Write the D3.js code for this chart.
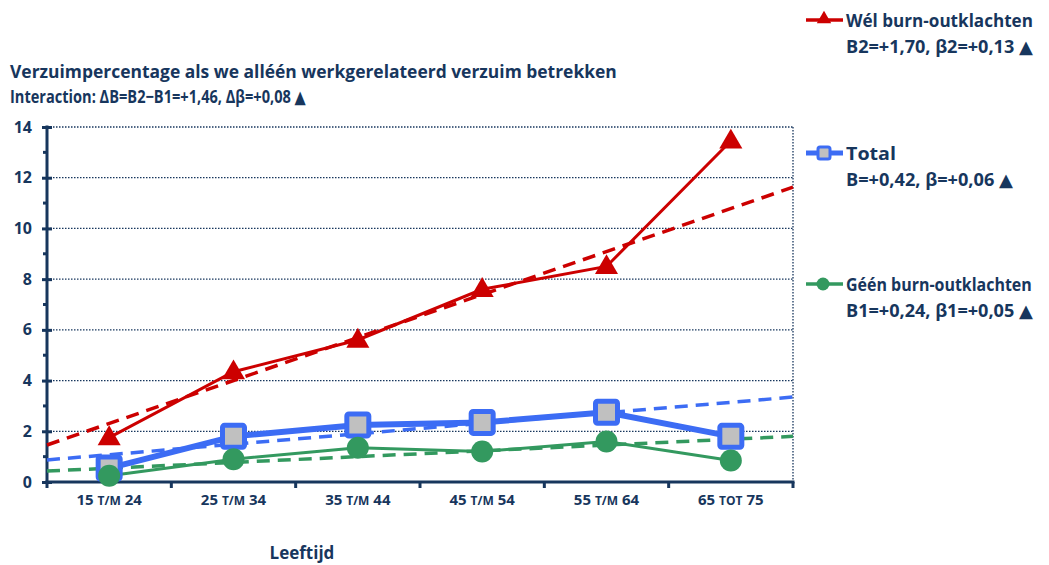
<!DOCTYPE html>
<html>
<head>
<meta charset="utf-8">
<script src="https://cdn.jsdelivr.net/npm/d3@7"></script>
<style>
body { margin:0; background:#fff; }
svg text { font-family: "Open Sans", "DejaVu Sans", sans-serif; font-weight:bold; fill:#17365d; }
</style>
</head>
<body>
<div id="chart"></div>
<script>
// leeftijdsgroepen
var categories = ["15|T/M|24", "25|T/M|34", "35|T/M|44", "45|T/M|54", "55|T/M|64", "65|TOT|75"];
var yTicks = [0, 2, 4, 6, 8, 10, 12, 14];

// verzuimpercentages
var welBurnout = [1.75, 4.35, 5.6, 7.6, 8.5, 13.45];
var total = [0.55, 1.8, 2.25, 2.35, 2.75, 1.8];
var geenBurnout = [0.25, 0.9, 1.35, 1.2, 1.6, 0.85];

// trendlijnen: waarde aan linker- en rechterrand van de plot
var welTrend = [1.46, 11.63];
var totalTrend = [0.87, 3.35];
var geenTrend = [0.43, 1.8];

var titleLines = ["Verzuimpercentage als we alléén werkgerelateerd verzuim betrekken",
	"Interaction: ΔB=B2\u2212B1=+1,46, Δβ=+0,08 ▲"];
var legendNames = ["Wél burn-outklachten", "Total", "Géén burn-outklachten"];
var legendStats = ["B2=+1,70, β2=+0,13 ▲", "B=+0,42, β=+0,06 ▲", "B1=+0,24, β1=+0,05 ▲"];

var navy = "#17365d";
var red = "#cc0000", blue = "#3c6cf4", green = "#33995f";

var width = 1049, height = 565;
var svg = d3.select("#chart").append("svg")
	.attr("width", width).attr("height", height);

var x = d3.scaleBand().domain(categories).range([47, 793]);
var y = d3.scaleLinear().domain([0, 14]).range([482, 127]);
var xc = function(d){ return x(d) + x.bandwidth()/2; };

// tekst horizontaal schalen tot een breedte (smaller lettertype, zoals Calibri)
function fitText(px, py, txt, size, w){
	var t = svg.append("text").attr("x", 0).attr("y", 0).style("font-size", size + "px").text(txt);
	var len = t.node().getComputedTextLength();
	t.attr("transform", "translate(" + px + "," + py + ") scale(" + (w/len) + ",1)");
	return t;
}

// grid
svg.selectAll(".grid").data(yTicks.filter(function(d){ return d > 0; }))
	.enter().append("line")
	.attr("x1", 47).attr("x2", 793)
	.attr("y1", function(d){ return y(d); }).attr("y2", function(d){ return y(d); })
	.attr("stroke", navy).attr("stroke-width", 1.3).attr("stroke-dasharray", "1.5,1.5");
svg.append("line")
	.attr("x1", 793).attr("x2", 793).attr("y1", y(14)).attr("y2", y(0))
	.attr("stroke", navy).attr("stroke-width", 1.3).attr("stroke-dasharray", "1.5,1.5");

// y axis
var yAxis = d3.axisLeft(y).tickValues(yTicks).tickSize(5).tickPadding(8);
var gy = svg.append("g").attr("transform", "translate(47,0)").call(yAxis);
gy.select(".domain").remove();
gy.selectAll(".tick line").attr("stroke", navy).attr("stroke-width", 3).attr("x2", -5).attr("x1", 5);
gy.selectAll(".tick text").attr("x", -15).attr("font-size", 16).style("font-size", "16px").style("fill", navy);
svg.selectAll(".minor").data([1, 3, 5, 7, 9, 11, 13]).enter().append("line")
	.attr("x1", 43).attr("x2", 47)
	.attr("y1", function(d){ return y(d); }).attr("y2", function(d){ return y(d); })
	.attr("stroke", navy).attr("stroke-width", 3);
svg.append("line").attr("x1", 47).attr("x2", 47).attr("y1", y(14) - 1.5).attr("y2", y(0) + 1.5)
	.attr("stroke", navy).attr("stroke-width", 3);

// x axis
svg.append("line").attr("x1", 45.5).attr("x2", 794.5).attr("y1", y(0)).attr("y2", y(0))
	.attr("stroke", navy).attr("stroke-width", 3);
svg.selectAll(".xtick").data(categories.concat(["end"])).enter().append("line")
	.attr("x1", function(d, i){ return i < categories.length ? x(d) : x.range()[1]; })
	.attr("x2", function(d, i){ return i < categories.length ? x(d) : x.range()[1]; })
	.attr("y1", y(0)).attr("y2", y(0) + 6)
	.attr("stroke", navy).attr("stroke-width", 3);

var xl = svg.selectAll(".xlab").data(categories).enter().append("text")
	.attr("x", xc).attr("y", 505).attr("text-anchor", "middle")
	.style("font-size", "15px");
xl.each(function(d){
	var p = d.split("|");
	var t = d3.select(this);
	t.append("tspan").text(p[0] + " ");
	t.append("tspan").style("font-size", "12px").text(p[1]);
	t.append("tspan").text(" " + p[2]);
});

svg.append("text").attr("x", 302).attr("y", 559).attr("text-anchor", "middle")
	.style("font-size", "17px").text("Leeftijd");

// titel
fitText(10, 78, titleLines[0], 18, 607);
fitText(10, 103, titleLines[1], 18, 296);

// trendlijnen
function trend(vals, color){
	svg.append("line")
		.attr("x1", x.range()[0]).attr("x2", x.range()[1])
		.attr("y1", y(vals[0])).attr("y2", y(vals[1]))
		.attr("stroke", color).attr("stroke-width", 3.5)
		.attr("stroke-dasharray", "13,8");
}
trend(welTrend, red);
trend(totalTrend, blue);
trend(geenTrend, green);

var line = d3.line()
	.x(function(d, i){ return xc(categories[i]); })
	.y(function(d){ return y(d); });

svg.append("path").attr("d", line(geenBurnout)).attr("fill", "none")
	.attr("stroke", green).attr("stroke-width", 3);
svg.append("path").attr("d", line(total)).attr("fill", "none")
	.attr("stroke", blue).attr("stroke-width", 6);
svg.append("path").attr("d", line(welBurnout)).attr("fill", "none")
	.attr("stroke", red).attr("stroke-width", 3);

// markers
svg.selectAll(".sq").data(total).enter().append("rect")
	.attr("x", function(d, i){ return xc(categories[i]) - 11; })
	.attr("y", function(d){ return y(d) - 11; })
	.attr("width", 22).attr("height", 22).attr("rx", 2)
	.attr("fill", "#c0c0c0").attr("stroke", blue).attr("stroke-width", 5);
svg.selectAll(".ci").data(geenBurnout).enter().append("circle")
	.attr("cx", function(d, i){ return xc(categories[i]); })
	.attr("cy", function(d){ return y(d); })
	.attr("r", 11).attr("fill", green);
var tri = d3.symbol().type(d3.symbolTriangle).size(230);
svg.selectAll(".tr").data(welBurnout).enter().append("path")
	.attr("d", tri)
	.attr("transform", function(d, i){ return "translate(" + xc(categories[i]) + "," + (y(d) + 1) + ")"; })
	.attr("fill", red);

// legenda
var legY = [20, 153, 284];
var legColors = [red, blue, green];
legendNames.forEach(function(name, i){
	var g = svg.append("g").attr("transform", "translate(0," + legY[i] + ")");
	g.append("line").attr("x1", 806).attr("x2", 843).attr("y1", 0).attr("y2", 0)
		.attr("stroke", legColors[i]).attr("stroke-width", i == 1 ? 5 : 3.5);
	if(i == 0){
		g.append("path").attr("d", d3.symbol().type(d3.symbolTriangle).size(90)())
			.attr("transform", "translate(824,-1)").attr("fill", red);
	}else if(i == 1){
		g.append("rect").attr("x", 818).attr("y", -6).attr("width", 12).attr("height", 12).attr("rx", 2)
			.attr("fill", "#c0c0c0").attr("stroke", blue).attr("stroke-width", 3);
	}else{
		g.append("circle").attr("cx", 823).attr("cy", 0).attr("r", 6.5).attr("fill", green);
	}
	var w1 = [187, 50, 186][i];
	var w2 = [187, 167, 187][i];
	fitText(846, legY[i] + 7, name, 18, w1);
	fitText(846, legY[i] + 33, legendStats[i], 18, w2);
});
</script>
</body>
</html>
